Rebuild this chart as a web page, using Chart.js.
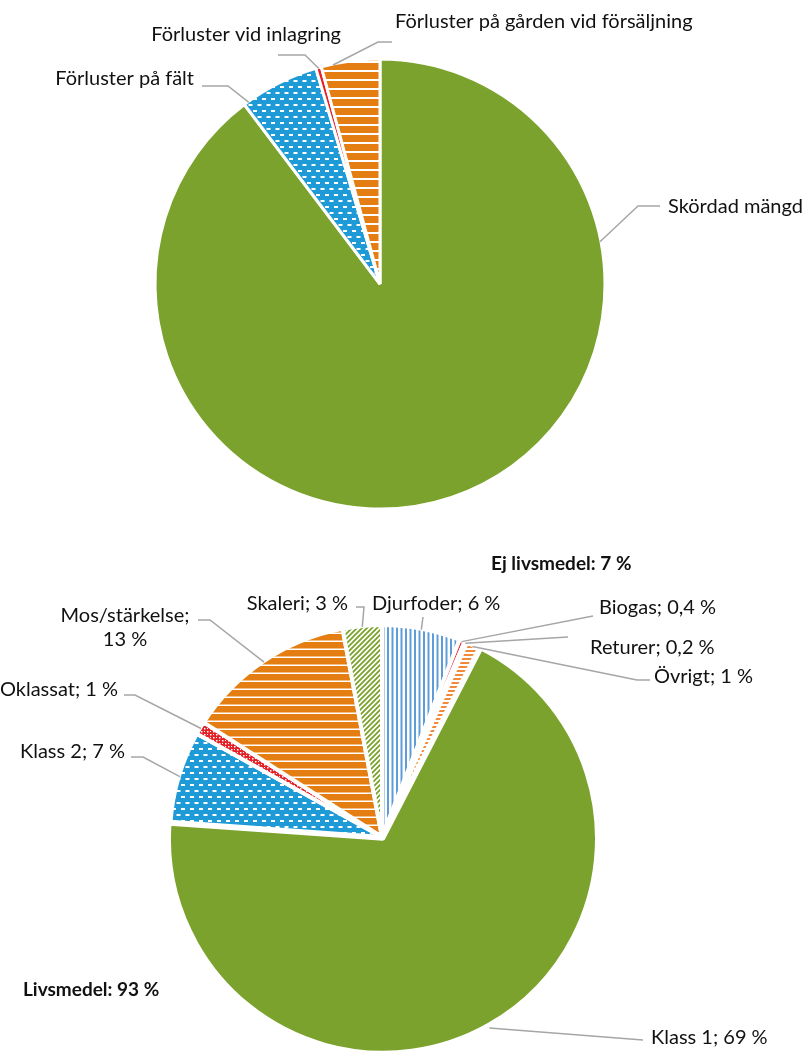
<!DOCTYPE html>
<html>
<head>
<meta charset="utf-8">
<script src="https://cdn.jsdelivr.net/npm/chart.js@4.4.0/dist/chart.umd.min.js"></script>
<style>
  html, body { margin: 0; padding: 0; background: #fff; }
  #wrap { position: relative; width: 809px; height: 1052px; overflow: hidden; }
  canvas { position: absolute; left: 0; }
  #chartTop { top: 0; }
  #chartBottom { top: 530px; }
</style>
</head>
<body>
<div id="wrap">
  <canvas id="chartTop" width="809" height="530"></canvas>
  <canvas id="chartBottom" width="809" height="522"></canvas>
</div>
<script>
// harvest and losses (top pie)
const topLabels = ['Skördad mängd', 'Förluster på fält', 'Förluster vid inlagring', 'Förluster på gården vid försäljning'];
const topValues = [89.7, 5.7, 0.4, 4.2];

// what the harvest is used for (bottom pie), percent
const bottomLabels = ['Djurfoder', 'Biogas', 'Returer', 'Övrigt', 'Klass 1', 'Klass 2', 'Oklassat', 'Mos/stärkelse', 'Skaleri'];
const bottomValues = [6, 0.4, 0.2, 1, 69, 7, 1, 13, 3];

// group totals
const groupLabels = ['Ej livsmedel', 'Livsmedel'];
const groupValues = [7, 93];

const GREEN = '#7ba22c';
const ORANGE = '#e57e12';
const BLUE = '#1e9ad6';
const RED = '#e42229';
const LIGHTBLUE = '#5d9cd8';
const LIGHTORANGE = '#f28a3a';
const FONT = 'Lato, "Open Sans", sans-serif';

const makePattern = (w, h, draw) => {
    const c = document.createElement('canvas');
    c.width = w;
    c.height = h;
    const g = c.getContext('2d');
    draw(g, w, h);
    return g.createPattern(c, 'repeat');
};

// blue with staggered white dashes
const dashBlue = makePattern(9, 12, (g, w, h) => {
    g.fillStyle = BLUE;
    g.fillRect(0, 0, w, h);
    g.fillStyle = '#fff';
    g.fillRect(1, 2, 4, 2);
    g.fillRect(5.5, 8, 3.5, 2);
    g.fillRect(0, 8, 0.5, 2);
});

// orange with white horizontal lines
const stripeOrange = (period, gap) => makePattern(1, period, (g, w, h) => {
    g.fillStyle = ORANGE;
    g.fillRect(0, 0, w, h);
    g.fillStyle = '#fff';
    g.fillRect(0, h - gap, w, gap);
});

// thin blue vertical lines on white
const vlineBlue = makePattern(9, 1, (g, w, h) => {
    g.fillStyle = '#fff';
    g.fillRect(0, 0, w, h);
    g.fillStyle = LIGHTBLUE;
    g.fillRect(0, 0, 2, h);
    g.fillRect(4.5, 0, 2, h);
});

// orange dashes on white
const hdashOrange = makePattern(1, 4, (g, w, h) => {
    g.fillStyle = '#fff';
    g.fillRect(0, 0, w, h);
    g.fillStyle = LIGHTORANGE;
    g.fillRect(0, 0, w, 2);
});

// green diagonals on white
const diagGreen = makePattern(5, 5, (g, w, h) => {
    g.fillStyle = '#fff';
    g.fillRect(0, 0, w, h);
    g.strokeStyle = GREEN;
    g.lineWidth = 1.8;
    g.beginPath();
    g.moveTo(-1, 6); g.lineTo(6, -1);
    g.moveTo(-1, 1); g.lineTo(1, -1);
    g.moveTo(4, 6); g.lineTo(6, 4);
    g.stroke();
});

// red with small white checks
const checkRed = makePattern(6, 6, (g, w, h) => {
    g.fillStyle = RED;
    g.fillRect(0, 0, w, h);
    g.fillStyle = '#fff';
    g.fillRect(0, 0, 1.5, 1.5);
    g.fillRect(3, 3, 1.5, 1.5);
    g.fillRect(3, 0, 1, 1);
    g.fillRect(0, 3, 1, 1);
});

const fmt = v => String(v).replace('.', ',') + ' %';

// callout layout: text position and the elbow points of each leader line
const topCallouts = [
    { index: 0, t: 0.245, x: 668, y: 207, align: 'left', path: [[660, 206], [638, 206]] },
    { index: 1, t: 0.06, x: 194, y: 79, align: 'right', path: [[202, 86], [228, 86]] },
    { index: 2, t: 0.5, x: 341, y: 35, align: 'right', path: [[278, 55], [305, 55]] },
    { index: 3, t: 0.2, x: 395, y: 22, align: 'left', path: [[392, 42], [378, 42]] }
];
topCallouts.forEach(c => { c.lines = [topLabels[c.index]]; });

const bottomCallouts = [
    { index: 0, x: 372, y: 74, align: 'left', path: [[423, 87]] },
    { index: 1, x: 599, y: 78, align: 'left', path: [[593, 86]] },
    { index: 2, x: 590, y: 118, align: 'left', path: [[568, 107]] },
    { index: 3, x: 654, y: 147, align: 'left', path: [[650, 150], [637, 150]] },
    { index: 4, x: 651, y: 508, align: 'left', path: [[643, 510]] },
    { index: 5, x: 125, y: 222, align: 'right', path: [[131, 227], [143, 227]] },
    { index: 6, x: 118, y: 160, align: 'right', path: [[124, 165], [135, 165]] },
    { index: 7, x: 125, y: 86, align: 'center', wrap: true, path: [[198, 90], [210, 90]] },
    { index: 8, x: 348, y: 74, align: 'right', path: [[356, 77], [364, 77]] }
];
bottomCallouts.forEach(c => {
    const name = bottomLabels[c.index] + ';';
    const val = fmt(bottomValues[c.index]);
    c.lines = c.wrap ? [name, val] : [name + ' ' + val];
});

const groupNotes = [
    { text: groupLabels[0] + ': ' + fmt(groupValues[0]), x: 491, y: 34 },
    { text: groupLabels[1] + ': ' + fmt(groupValues[1]), x: 23, y: 460 }
];

// draws leader lines from each slice edge out to its text
const calloutPlugin = (items, notes) => ({
    id: 'callouts',
    afterDraw(chart) {
        const ctx = chart.ctx;
        const arcs = chart.getDatasetMeta(0).data;
        ctx.save();
        items.forEach(item => {
            const arc = arcs[item.index];
            const p = arc.getProps(['x', 'y', 'startAngle', 'endAngle', 'outerRadius'], true);
            const off = arc.options.offset || 0;
            const mid = (p.startAngle + p.endAngle) / 2;
            const t = item.t === undefined ? 0.5 : item.t;
            const a = p.startAngle + t * (p.endAngle - p.startAngle);
            const r = p.outerRadius - 1;
            const ax = p.x + Math.cos(mid) * off + Math.cos(a) * r;
            const ay = p.y + Math.sin(mid) * off + Math.sin(a) * r;

            ctx.strokeStyle = '#a6a6a6';
            ctx.lineWidth = 1.5;
            ctx.beginPath();
            item.path.forEach((pt, i) => {
                if (i === 0) ctx.moveTo(pt[0], pt[1]);
                else ctx.lineTo(pt[0], pt[1]);
            });
            ctx.lineTo(ax, ay);
            ctx.stroke();

            ctx.fillStyle = '#111';
            ctx.font = '20px ' + FONT;
            ctx.textAlign = item.align;
            ctx.textBaseline = 'middle';
            item.lines.forEach((line, i) => {
                ctx.fillText(line, item.x, item.y + i * 24);
            });
        });
        (notes || []).forEach(n => {
            ctx.fillStyle = '#111';
            ctx.font = 'bold 19px ' + FONT;
            ctx.textAlign = 'left';
            ctx.textBaseline = 'middle';
            ctx.fillText(n.text, n.x, n.y);
        });
        ctx.restore();
    }
});

new Chart(document.getElementById('chartTop'), {
    type: 'pie',
    data: {
        labels: topLabels,
        datasets: [{
            data: topValues,
            backgroundColor: [GREEN, dashBlue, RED, stripeOrange(9, 2)],
            borderColor: '#fff',
            borderWidth: 3
        }]
    },
    options: {
        responsive: false,
        animation: false,
        events: [],
        radius: 225,
        layout: { padding: { left: 0, right: 49, top: 44, bottom: 6 } },
        plugins: {
            legend: { display: false },
            tooltip: { enabled: false }
        }
    },
    plugins: [calloutPlugin(topCallouts)]
});

new Chart(document.getElementById('chartBottom'), {
    type: 'pie',
    data: {
        labels: bottomLabels,
        datasets: [{
            data: bottomValues,
            backgroundColor: [vlineBlue, RED, '#bfbfbf', hdashOrange, GREEN, dashBlue, checkRed, stripeOrange(8, 1.5), diagGreen],
            borderColor: '#fff',
            borderWidth: 4,
            // Klass 1 pulled out a little from the rest
            offset: [0, 0, 0, 0, 8, 0, 0, 0, 0]
        }]
    },
    options: {
        responsive: false,
        animation: false,
        events: [],
        radius: 212,
        layout: { padding: { left: 0, right: 45, top: 107, bottom: 15 } },
        plugins: {
            legend: { display: false },
            tooltip: { enabled: false }
        }
    },
    plugins: [calloutPlugin(bottomCallouts, groupNotes)]
});
</script>
</body>
</html>
